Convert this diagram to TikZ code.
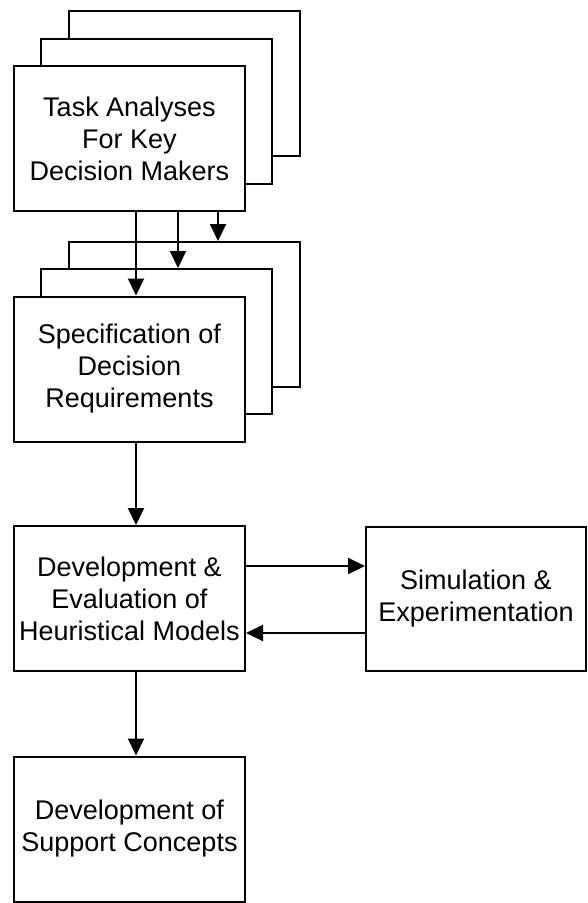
\documentclass[tikz,border=0pt]{standalone}
\usepackage{fontspec}
\setmainfont{Liberation Sans}
\usetikzlibrary{arrows.meta}
\tikzset{
	box/.style={draw, line width=2pt, fill=white, inner sep=0pt, align=center,
		minimum width=231pt, minimum height=145pt, font=\fontsize{27}{32}\selectfont},
	flow/.style={line width=2pt, -{Triangle[width=16pt,length=17pt]}}
}

\begin{document}
\begin{tikzpicture}[x=1pt, y=-1pt]
			%%%%% START %%%%%
			\useasboundingbox (0, 0) rectangle (587, 903);
			
			% stacked task analyses
			\node[box] (task3) at (184, 83) {};
			\node[box] (task2) at (156, 111) {};
			\node[box] (task) at (129.5, 138.5) {Task Analyses\\For Key\\Decision Makers};
			
			% stacked decision requirements
			\node[box] (spec3) at (184, 314.5) {};
			\node[box] (spec2) at (156, 341.5) {};
			\node[box] (spec) at (129.5, 369) {Specification of\\Decision\\Requirements};
			
			\node[box] (dev) at (129.5, 598.5) {Development \&\\Evaluation of\\Heuristical Models};
			\node[box, minimum width=220pt, minimum height=144pt] (sim) at (476, 598.5) {Simulation \&\\Experimentation};
			\node[box] (concepts) at (129.5, 829) {Development of\\Support Concepts};
			
			\foreach \x/\t in {136/spec, 178/spec2, 218/spec3}
				\draw[flow] (task.south -| \x, 0) -- (\t.north -| \x, 0);
			
			\draw[flow] (spec.south -| 136, 0) -- (dev.north -| 136, 0);
			\draw[flow] (dev.south -| 136, 0) -- (concepts.north -| 136, 0);
			
			\draw[flow] (dev.east |- 0, 566) -- (sim.west |- 0, 566);
			\draw[flow] (sim.west |- 0, 633) -- (dev.east |- 0, 633);
			%%%%% END %%%%%
\end{tikzpicture}
\end{document}
